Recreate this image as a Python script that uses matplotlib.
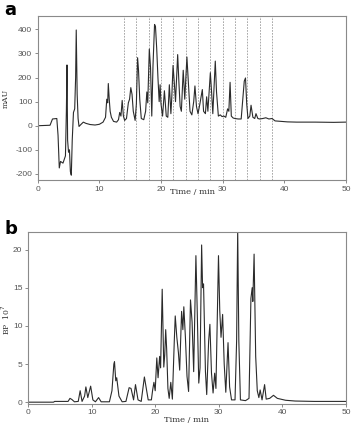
import matplotlib
matplotlib.use("Agg")
import matplotlib.pyplot as plt

plt.rcParams["axes.unicode_minus"] = False

# ---- Panel a: UV chromatogram (mAU) ----
a_time = [0, 2.0, 2.4, 3.1, 3.3, 3.5, 3.7, 4.1, 4.5, 4.65, 4.75, 4.85, 5.0, 5.15, 5.3, 5.45, 5.6, 5.8, 6.0, 6.15,
          6.25, 6.4, 6.55, 6.7, 7.0, 7.4, 7.8, 8.5, 9.3, 10.0, 10.6, 11.0, 11.2, 11.35, 11.45, 11.6, 11.75, 11.95,
          12.3, 12.8, 13.1, 13.3, 13.5, 13.7, 13.9, 14.1, 14.4, 14.7, 14.9, 15.1, 15.3, 15.5, 15.8, 16.0, 16.2,
          16.35, 16.55, 16.8, 17.2, 17.5, 17.7, 17.85, 18.1, 18.3, 18.5, 18.7, 18.95, 19.1, 19.3, 19.5, 19.7,
          19.85, 20.0, 20.25, 20.55, 20.85, 21.1, 21.35, 21.6, 21.75, 21.95, 22.15, 22.35, 22.7, 22.9, 23.1,
          23.3, 23.6, 23.85, 24.2, 24.5, 24.7, 25.0, 25.3, 25.5, 25.75, 26.0, 26.3, 26.7, 26.9, 27.2, 27.4,
          27.6, 28.0, 28.2, 28.4, 28.8, 29.0, 29.3, 29.6, 29.9, 30.2, 30.5, 30.8, 31.0, 31.2, 31.4, 31.7, 32.0,
          32.5, 33.0, 33.3, 33.5, 33.7, 33.9, 34.1, 34.4, 34.6, 34.9, 35.2, 35.4, 35.7, 36.0, 36.5, 37.0, 37.5,
          38.0, 38.5, 39.5, 40.5, 42, 45, 48, 50]
a_mau = [0, 2, 28, 30, -40, -175, -148, -155, -125, 60, 252, -60, -110, -100, -190, -205, -60, 55, 70, 200,
         397, 130, 30, -3, 5, 15, 10, 5, 3, 6, 15, 35, 110, 95, 175, 110, 60, 35,
         18, 15, 25, 55, 40, 105, 40, 22, 30, 95, 110, 158, 130, 60, 22, 90, 282,
         230, 110, 30, 25, 60, 140, 95, 318, 240, 40, 250, 420, 412, 320, 200, 100,
         170, 90, 40, 145, 40, 35, 170, 50, 120, 250, 180, 100, 295, 180, 80,
         60, 230, 110, 285, 150, 60, 45, 100, 165, 80, 50, 90, 150, 60, 50, 120,
         60, 220, 140, 50, 268, 140, 40, 45, 38, 40, 35, 70, 60, 180, 40, 32, 30,
         28, 28, 120, 185, 198, 90, 30, 40, 85, 35, 30, 50, 30, 28, 30, 33, 28,
         30, 20, 18, 16, 15, 15, 14, 15]
a_marks = [14, 16, 18, 20, 22, 24, 26, 28, 30, 32, 34, 36, 38]
a_xticks = [0, 10, 20, 30, 40, 50]
a_yticks = [-200, -100, 0, 100, 200, 300, 400]

# ---- Panel b: base peak chromatogram (x10^7) ----
b_time = [0, 4, 4.2, 6.3, 6.6, 6.9, 7.3, 7.9, 8.2, 8.5, 8.9, 9.1, 9.4, 9.85, 10.2, 10.6, 11.1, 11.5, 12.8,
          13.2, 13.5, 13.6, 13.8, 13.95, 14.3, 14.8, 15.4, 15.9, 16.2, 16.6, 16.9, 17.3, 17.8, 18.3, 18.6,
          18.9, 19.4, 19.6, 19.8, 20.0, 20.25, 20.45, 20.7, 20.85, 21.1, 21.35, 21.5, 21.65, 21.8, 22.0,
          22.2, 22.45, 22.7, 23.0, 23.15, 23.4, 23.65, 23.85, 24.15, 24.35, 24.5, 24.75, 25.0, 25.25, 25.55,
          25.8, 26.05, 26.4, 26.6, 26.85, 27.05, 27.3, 27.45, 27.6, 27.9, 28.1, 28.4, 28.6, 28.85, 29.1,
          29.35, 29.55, 29.95, 30.15, 30.35, 30.6, 30.85, 31.1, 31.45, 31.7, 32.0, 32.55, 32.8, 32.97,
          33.15, 33.4, 34.2, 34.75, 35.05, 35.25, 35.35, 35.55, 35.8, 36.05, 36.3, 36.5, 36.8, 37.2, 37.45,
          38.0, 38.6, 39.2, 40.5, 42, 45, 50]
b_bp = [0, 0, 0.1, 0.1, 0.5, 0.35, 0.05, 0.1, 1.5, 0.1, 0.8, 2.0, 0.6, 2.1, 0.3, 0.05, 0.6, 0.05, 0.05,
        1.5, 5.0, 5.3, 2.8, 3.2, 0.8, 0.05, 0.1, 1.9, 1.8, 0.3, 2.3, 0.3, 0.1, 3.3, 1.8,
        0.3, 0.3, 1.6, 2.6, 1.5, 5.8, 3.2, 6.0, 4.5, 14.8, 4.6, 6.2, 9.5, 7.0, 1.8,
        0.5, 2.6, 0.4, 8.0, 11.3, 8.5, 6.5, 4.2, 11.9, 9.5, 12.5, 8.5, 3.4, 1.4, 13.4,
        10.5, 4.0, 19.2, 12.3, 2.5, 4.5, 20.6, 15.0, 15.5, 4.0, 1.0, 8.0, 10.2, 3.8, 1.2,
        3.8, 1.8, 19.2, 12.0, 8.5, 11.5, 5.0, 1.3, 7.8, 2.0, 0.3, 0.3, 8.0, 22.6,
        8.0, 0.3, 0.2, 0.5, 13.6, 15.0, 13.2, 19.4, 6.0, 1.5, 0.6, 1.6, 0.3, 2.3, 0.4,
        0.5, 0.9, 0.5, 0.25, 0.15, 0.1, 0.1]
b_xticks = [0, 10, 20, 30, 40, 50]
b_yticks = [0, 5, 10, 15, 20]

W, H = 352, 426
fig = plt.figure(figsize=(W / 100, H / 100), dpi=100)

spine_c = "#8a8a8a"
tick_c = "#555555"
line_c = "#2b2b2b"
lab_c = "#333333"

def style(ax):
    for s in ax.spines.values():
        s.set_color(spine_c)
        s.set_linewidth(0.8)
    ax.tick_params(direction="out", length=2.5, width=0.7, color=spine_c,
                   labelsize=6, labelcolor=tick_c, pad=1.5)
    for lab in ax.get_xticklabels() + ax.get_yticklabels():
        lab.set_family("Liberation Sans")

def px(x, y):
    return x / W, 1 - y / H

# panel a
axa = fig.add_axes([37.7 / W, 1 - 180 / H, (346 - 37.7) / W, (180 - 16) / H])
for m in a_marks:
    axa.axvline(m, color="#9a9a9a", lw=0.6, ls=(0, (2, 1.5)), zorder=1)
axa.plot(a_time, a_mau, color=line_c, lw=0.8, zorder=2)
axa.set_xlim(0, 50)
axa.set_ylim(-225, 455)
axa.set_xticks(a_xticks)
axa.set_yticks(a_yticks)
style(axa)

# panel b
axb = fig.add_axes([28 / W, 1 - 403.7 / H, (346 - 28) / W, (403.7 - 232) / H])
axb.plot(b_time, b_bp, color=line_c, lw=0.8, clip_on=True)
axb.set_xlim(0, 50)
axb.set_ylim(-0.2, 22.3)
axb.set_xticks(b_xticks)
axb.set_yticks(b_yticks)
style(axb)

# axis labels placed in figure pixels
fig.text(*px(6, 98), "mAU", family="DejaVu Serif", fontsize=5.5, color=lab_c,
         rotation=90, ha="center", va="center")
fig.text(*px(192, 192), "Time / min", family="DejaVu Serif", fontsize=6, color=lab_c,
         ha="center", va="center")
fig.text(*px(6, 320), "BP  10$^7$", family="DejaVu Serif", fontsize=5.5, color=lab_c,
         rotation=90, ha="center", va="center")
fig.text(*px(187, 420), "Time / min", family="DejaVu Serif", fontsize=6, color=lab_c,
         ha="center", va="center")

fig.text(*px(4, 10), "a", fontsize=13, fontweight="bold", va="center", ha="left")
fig.text(*px(4, 229), "b", fontsize=13, fontweight="bold", va="center", ha="left")

fig.savefig("out.png", dpi=100)
